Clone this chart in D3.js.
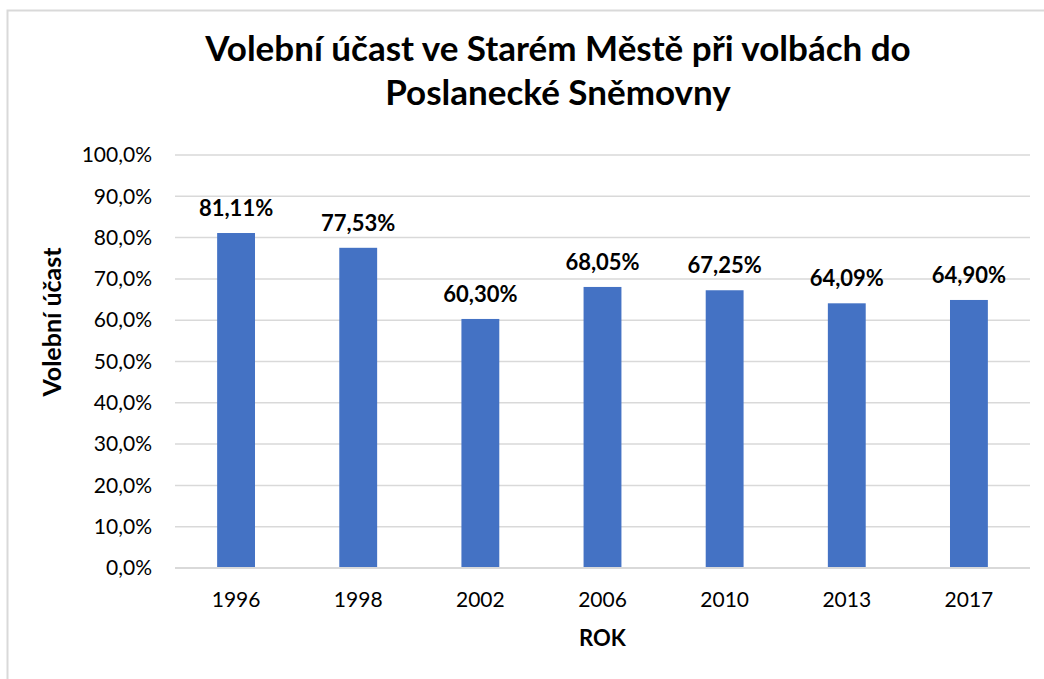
<html>
<style>
    body { margin:0; background:#fff; }
    svg { display:block; font-family: Lato, Carlito, "Open Sans", sans-serif; }
</style>
<script src="https://d3js.org/d3.v7.min.js" charset="utf-8"></script>
<body>
<div class="chart"></div>
<script>
    var years = ["1996", "1998", "2002", "2006", "2010", "2013", "2017"];
    var turnout = [81.11, 77.53, 60.30, 68.05, 67.25, 64.09, 64.90];
    var yTicks = [0, 10, 20, 30, 40, 50, 60, 70, 80, 90, 100];
    var titleLines = ["Volební účast ve Starém Městě při volbách do", "Poslanecké Sněmovny"];

    // Configuration
    var W = 1044, H = 679;
    var margin = { top: 155, right: 14, bottom: 111, left: 175 };
    var width = W - margin.left - margin.right;
    var height = H - margin.top - margin.bottom;
    var font = "Lato, Carlito, 'Open Sans', sans-serif";

    var svg = d3.select(".chart").append("svg")
        .attr("width", W)
        .attr("height", H);

    // chart border (only left and top edges are in view)
    svg.append("rect")
        .attr("x", 7.5).attr("y", 10.5)
        .attr("width", 1100).attr("height", 800)
        .attr("fill", "none")
        .attr("stroke", "#d9d9d9")
        .attr("stroke-width", 2);

    // title
    svg.append("g").selectAll("text")
        .data(titleLines).enter()
        .append("text")
        .attr("x", 558)
        .attr("y", function(d, i) { return 61 + i * 44; })
        .attr("text-anchor", "middle")
        .attr("font-size", 35)
        .attr("font-weight", "bold")
        .attr("fill", "#000")
        .text(function(d) { return d; });

    var g = svg.append("g")
        .attr("transform", "translate(" + margin.left + "," + margin.top + ")");

    var x = d3.scaleBand().domain(years).range([0, width]).paddingInner(0.69).paddingOuter(0.345);
    var y = d3.scaleLinear().domain([0, 100]).range([height, 0]);

    // gridlines
    g.append("g").selectAll("line")
        .data(yTicks).enter()
        .append("line")
        .attr("x1", 0).attr("x2", width)
        .attr("y1", function(d) { return y(d); })
        .attr("y2", function(d) { return y(d); })
        .attr("stroke", "#d9d9d9")
        .attr("stroke-width", 1.5);

    // y axis labels
    var yAxis = d3.axisLeft(y).tickValues(yTicks).tickSize(0).tickPadding(23)
        .tickFormat(function(d) { return d.toFixed(1).replace(".", ",") + "%"; });
    var ya = g.append("g").call(yAxis)
        .attr("font-family", font).attr("font-size", 21);
    ya.select(".domain").remove();
    ya.selectAll("text").attr("fill", "#000");

    // bars
    g.append("g").selectAll("rect")
        .data(turnout).enter()
        .append("rect")
        .attr("x", function(d, i) { return x(years[i]); })
        .attr("width", x.bandwidth())
        .attr("y", function(d) { return y(d); })
        .attr("height", function(d) { return height - y(d); })
        .attr("fill", "#4472c4");

    // baseline
    g.append("line")
        .attr("x1", 0).attr("x2", width)
        .attr("y1", height).attr("y2", height)
        .attr("stroke", "#d9d9d9").attr("stroke-width", 2);

    // data labels
    g.append("g").selectAll("text")
        .data(turnout).enter()
        .append("text")
        .attr("x", function(d, i) { return x(years[i]) + x.bandwidth() / 2; })
        .attr("y", function(d) { return y(d) - 17; })
        .attr("text-anchor", "middle")
        .attr("font-size", 22)
        .attr("font-weight", "bold")
        .attr("fill", "#000")
        .text(function(d) { return d.toFixed(2).replace(".", ",") + "%"; });

    // x axis labels
    var xAxis = d3.axisBottom(x).tickSize(0).tickPadding(24);
    var xa = g.append("g").attr("transform", "translate(0," + height + ")").call(xAxis)
        .attr("font-family", font).attr("font-size", 21);
    xa.select(".domain").remove();
    xa.selectAll("text").attr("fill", "#000");

    // axis titles
    svg.append("text")
        .attr("x", margin.left + width / 2)
        .attr("y", 646)
        .attr("text-anchor", "middle")
        .attr("font-size", 22)
        .attr("font-weight", "bold")
        .text("ROK");

    svg.append("text")
        .attr("transform", "translate(61,322) rotate(-90)")
        .attr("text-anchor", "middle")
        .attr("font-size", 25)
        .attr("font-weight", "bold")
        .text("Volební účast");
</script>
</body>
</html>
